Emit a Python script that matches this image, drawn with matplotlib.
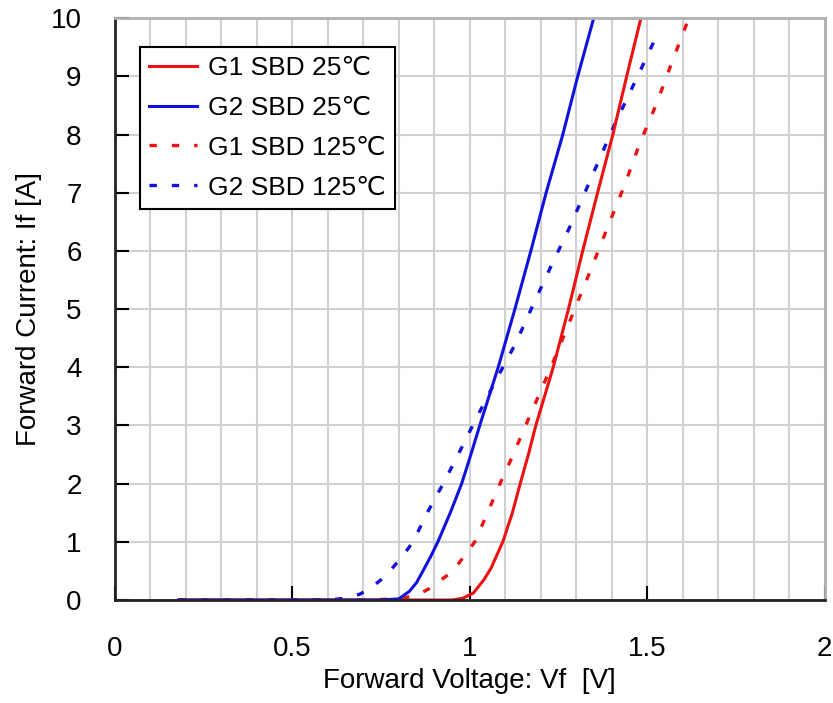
import numpy as np
import matplotlib.pyplot as plt
from matplotlib.ticker import MultipleLocator

plt.rcParams['font.family'] = ['Liberation Sans', 'DejaVu Sans']

# forward voltage (V) vs forward current (A)
g1_25_v = [0.18, 0.5, 0.8, 0.95, 0.98, 1.01, 1.04, 1.06, 1.093, 1.12, 1.142, 1.165, 1.186, 1.235, 1.278, 1.318, 1.36, 1.403, 1.442, 1.482]
g1_25_i = [0, 0, 0, 0, 0.03, 0.12, 0.35, 0.55, 1, 1.5, 2, 2.5, 3, 4, 5, 6, 7, 8, 9, 10]

g2_25_v = [0.18, 0.5, 0.75, 0.8, 0.83, 0.85, 0.868, 0.89, 0.91, 0.945, 0.977, 1.003, 1.028, 1.08, 1.127, 1.172, 1.215, 1.262, 1.304, 1.349]
g2_25_i = [0, 0, 0, 0.02, 0.15, 0.3, 0.5, 0.75, 1, 1.5, 2, 2.5, 3, 4, 5, 6, 7, 8, 9, 10]

g1_125_v = [0.18, 0.5, 0.7, 0.8, 0.85, 0.887, 0.953, 1.014, 1.05, 1.085, 1.117, 1.166, 1.213, 1.238, 1.301, 1.347, 1.391, 1.436, 1.479, 1.526, 1.568, 1.612]
g1_125_i = [0, 0, 0, 0.02, 0.08, 0.2, 0.5, 1, 1.5, 2, 2.43, 3.12, 3.78, 4.14, 5.08, 5.77, 6.45, 7.13, 7.85, 8.53, 9.22, 9.92]

g2_125_v = [0.18, 0.5, 0.6, 0.65, 0.69, 0.72, 0.75, 0.775, 0.81, 0.84, 0.88, 0.925, 0.963, 1.018, 1.073, 1.129, 1.178, 1.229, 1.28, 1.329, 1.404, 1.482, 1.535]
g2_125_i = [0, 0, 0, 0.03, 0.1, 0.2, 0.35, 0.5, 0.75, 1, 1.5, 2, 2.45, 3.12, 3.77, 4.41, 5.07, 5.74, 6.39, 7.07, 8.12, 9.12, 9.81]

fig = plt.figure(figsize=(8.33, 7.03), dpi=100)
ax = fig.add_axes([0.138, 0.1465, 0.852, 0.8275])

dots = (0, (2.2, 4.5))
ax.plot(g1_125_v, g1_125_i, color='#ee1111', lw=2.4, ls=dots, label='G1 SBD 125\u2103')
ax.plot(g2_125_v, g2_125_i, color='#1111dd', lw=2.4, ls=dots, label='G2 SBD 125\u2103')
ax.plot(g1_25_v, g1_25_i, color='#ee1111', lw=2.2, label='G1 SBD 25\u2103')
ax.plot(g2_25_v, g2_25_i, color='#1111dd', lw=2.2, label='G2 SBD 25\u2103')

ax.set_xlim(0, 2)
ax.set_ylim(0, 10)
ax.xaxis.set_minor_locator(MultipleLocator(0.1))
ax.yaxis.set_major_locator(MultipleLocator(1))
ax.set_xticks(np.arange(0, 2.01, 0.5))
ax.set_xticklabels(['0', '0.5', '1', '1.5', '2'])
ax.grid(which='both', color='#d0d0d0', lw=1.5)
ax.set_axisbelow(True)
ax.tick_params(which='major', direction='in', length=10, width=1.5, labelsize=20)
ax.tick_params(which='minor', length=0)
ax.tick_params(axis='x', pad=26)
ax.tick_params(axis='y', pad=24)

for s in ['top', 'right']:
    ax.spines[s].set_color('#b0b0b0')
    ax.spines[s].set_linewidth(2)
for s in ['left', 'bottom']:
    ax.spines[s].set_color('#222222')
    ax.spines[s].set_linewidth(2)

ax.set_xlabel('Forward Voltage: Vf  [V]', fontsize=20, labelpad=4)
ax.set_ylabel('Forward Current: If [A]', fontsize=20, labelpad=6)

h, l = ax.get_legend_handles_labels()
order = [2, 3, 0, 1]
leg = ax.legend([h[i] for i in order], [l[i] for i in order], loc='upper left',
                bbox_to_anchor=(0.035, 0.951), fontsize=19, fancybox=False,
                edgecolor='black', framealpha=1, handlelength=1.8,
                borderpad=0.35, labelspacing=0.6, handletextpad=0.45,
                borderaxespad=0)
leg.get_frame().set_linewidth(1.5)

fig.savefig('out.png', dpi=100)
